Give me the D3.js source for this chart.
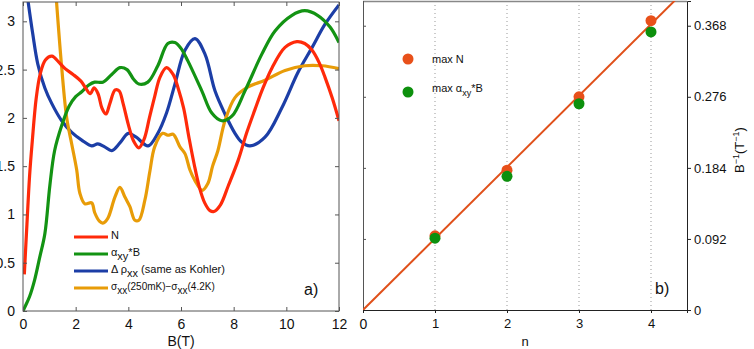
<!DOCTYPE html>
<html>
<head>
<meta charset="utf-8">
<script src="https://cdn.jsdelivr.net/npm/d3@7"></script>
<style>
body { margin: 0; background: #fff; }
svg { font-family: "Liberation Sans", Arial, sans-serif; }
</style>
</head>
<body>
<svg id="chart" width="754" height="349"></svg>
<script>
// ---- data: panel a) B(T) vs signal ----
const seriesN = [[0.05,0.38],[0.15,0.9],[0.25,1.4],[0.35,1.75],[0.5,2.2],[0.65,2.45],[0.85,2.6],[1.1,2.64],[1.35,2.58],[1.6,2.51],[1.9,2.45],[2.2,2.38],[2.4,2.3],[2.55,2.25],[2.7,2.31],[2.85,2.25],[3.0,2.1],[3.15,2.04],[3.3,2.15],[3.5,2.29],[3.65,2.28],[3.8,2.15],[4.0,1.93],[4.2,1.76],[4.4,1.69],[4.6,1.78],[4.8,2.0],[5.0,2.22],[5.2,2.42],[5.45,2.52],[5.7,2.45],[5.9,2.3],[6.1,2.1],[6.3,1.8],[6.5,1.52],[6.7,1.28],[6.9,1.12],[7.1,1.04],[7.25,1.03],[7.5,1.1],[7.8,1.3],[8.17,1.56],[8.5,1.85],[8.8,2.08],[9.1,2.3],[9.46,2.52],[9.95,2.73],[10.4,2.79],[10.7,2.77],[10.98,2.7],[11.25,2.57],[11.47,2.42],[11.75,2.2],[12.0,1.97]];
const seriesAlpha = [[0.0,0.0],[0.07,0.04],[0.25,0.15],[0.44,0.32],[0.63,0.55],[0.83,0.8],[1.02,1.3],[1.2,1.66],[1.47,1.92],[1.75,2.12],[2.0,2.22],[2.23,2.27],[2.5,2.34],[2.72,2.37],[3.03,2.37],[3.37,2.45],[3.68,2.52],[3.95,2.5],[4.2,2.4],[4.4,2.35],[4.74,2.37],[5.12,2.54],[5.5,2.77],[5.77,2.78],[6.0,2.72],[6.26,2.59],[6.79,2.28],[7.17,2.05],[7.55,1.97],[7.94,2.02],[8.43,2.28],[9.07,2.66],[9.57,2.9],[10.2,3.06],[10.7,3.11],[11.2,3.06],[11.66,2.94],[12.0,2.78]];
const seriesRho = [[0.12,3.35],[0.37,2.87],[0.56,2.56],[0.83,2.31],[1.09,2.15],[1.47,1.97],[1.85,1.85],[2.23,1.77],[2.61,1.71],[2.84,1.73],[3.1,1.7],[3.37,1.66],[3.68,1.74],[4.0,1.84],[4.3,1.8],[4.75,1.71],[5.12,1.84],[5.45,2.05],[5.77,2.35],[6.15,2.7],[6.53,2.82],[6.91,2.66],[7.29,2.28],[7.67,2.04],[8.05,1.84],[8.3,1.75],[8.62,1.71],[9.19,1.8],[9.84,2.11],[10.44,2.47],[10.98,2.73],[11.47,2.97],[12.0,3.17]];
const seriesSigma = [[1.22,3.4],[1.47,2.52],[1.66,2.0],[1.85,1.73],[2.04,1.46],[2.16,1.22],[2.35,1.11],[2.61,1.12],[2.72,1.02],[2.9,0.93],[3.03,0.91],[3.22,0.96],[3.49,1.18],[3.68,1.28],[3.87,1.18],[4.06,1.08],[4.25,0.94],[4.4,0.94],[4.63,1.15],[4.82,1.45],[5.0,1.7],[5.3,1.84],[5.5,1.82],[5.7,1.83],[5.96,1.7],[6.15,1.63],[6.34,1.46],[6.53,1.35],[6.8,1.25],[7.02,1.32],[7.2,1.5],[7.4,1.66],[7.67,1.97],[8.05,2.21],[8.55,2.32],[9.19,2.39],[9.95,2.49],[10.7,2.54],[11.36,2.54],[12.0,2.51]];
const xTicksA = [0, 2, 4, 6, 8, 10, 12];
const yTicksA = [0, 0.5, 1, 1.5, 2, 2.5, 3];

// ---- data: panel b) n vs inverse field ----
const nValues = [1, 2, 3, 4];
const maxN = [0.096, 0.181, 0.276, 0.3745];
const maxAlpha = [0.093, 0.173, 0.267, 0.360];
const fitSlope = 0.0925;
const xTicksB = [0, 1, 2, 3, 4];
const yTicksB = [0, 0.092, 0.184, 0.276, 0.368];

const colors = { N: "#ff2a0a", alpha: "#139313", rho: "#1c3ea6", sigma: "#e89c08" };
const dotRed = "#e8501a", dotGreen = "#0d900d";

const svg = d3.select("#chart");

// writes [text, isSub] pieces into a text node
function richText(t, parts, subSize) {
  let shifted = false;
  parts.forEach(p => {
    const ts = t.append("tspan").text(p[0]);
    if (p[1] && !shifted) { ts.attr("dy", 4).attr("font-size", subSize); shifted = true; }
    else if (p[1]) { ts.attr("font-size", subSize); }
    else if (!p[1] && shifted) { ts.attr("dy", -4); shifted = false; }
  });
}

// ================= panel a =================
const A = { left: 23, right: 339, top: 2, bottom: 311 };
const xA = d3.scaleLinear().domain([0, 12]).range([A.left, A.right]);
const yA = d3.scaleLinear().domain([0, 3.2]).range([A.bottom, A.top]);

svg.append("clipPath").attr("id", "clipA")
  .append("rect").attr("x", A.left).attr("y", A.top)
  .attr("width", A.right - A.left).attr("height", A.bottom - A.top);

const gA = svg.append("g");

const lineA = d3.line().x(d => xA(d[0])).y(d => yA(d[1])).curve(d3.curveCatmullRom.alpha(0.5));

const curves = [
  { data: seriesRho, color: colors.rho },
  { data: seriesSigma, color: colors.sigma },
  { data: seriesAlpha, color: colors.alpha },
  { data: seriesN, color: colors.N }
];
gA.append("g").attr("clip-path", "url(#clipA)")
  .selectAll("path").data(curves).join("path")
  .attr("d", d => lineA(d.data))
  .attr("fill", "none")
  .attr("stroke", d => d.color)
  .attr("stroke-width", 3.2)
  .attr("stroke-linejoin", "round");

// frame + ticks (matlab style, inward)
gA.append("rect").attr("x", A.left).attr("y", A.top)
  .attr("width", A.right - A.left).attr("height", A.bottom - A.top)
  .attr("fill", "none").attr("stroke", "#555").attr("stroke-width", 1);

const axB = gA.append("g").attr("transform", `translate(0,${A.bottom})`)
  .call(d3.axisBottom(xA).tickValues(xTicksA).tickSize(-4).tickPadding(8).tickFormat(d3.format("d")));
const axT = gA.append("g").attr("transform", `translate(0,${A.top})`)
  .call(d3.axisTop(xA).tickValues(xTicksA).tickSize(-4).tickFormat(""));
const axL = gA.append("g").attr("transform", `translate(${A.left},0)`)
  .call(d3.axisLeft(yA).tickValues(yTicksA).tickSize(-4).tickPadding(8).tickFormat(d => d === 0 ? "0" : d3.format("")(d)));
const axR = gA.append("g").attr("transform", `translate(${A.right},0)`)
  .call(d3.axisRight(yA).tickValues(yTicksA).tickSize(-4).tickFormat(""));
[axB, axT, axL, axR].forEach(a => {
  a.select(".domain").remove();
  a.selectAll(".tick line").attr("stroke", "#555");
  a.selectAll("text").attr("font-size", 14).attr("fill", "#111").attr("font-family", "Liberation Sans, Arial, sans-serif");
});

gA.append("text").attr("x", xA(6)).attr("y", 346).attr("text-anchor", "middle")
  .attr("font-size", 14).attr("fill", "#111").text("B(T)");
gA.append("text").attr("x", 304).attr("y", 295)
  .attr("font-size", 16).attr("fill", "#111").text("a)");

// legend
const legA = gA.append("g").attr("font-size", 11).attr("fill", "#111");
const legRows = [
  { color: colors.N, y: 237, parts: [["N", 0]] },
  { color: colors.alpha, y: 254, parts: [["α", 0], ["xy", 1], ["*B", 0]] },
  { color: colors.rho, y: 271, parts: [["Δ ρ", 0], ["xx", 1], [" (same as Kohler)", 0]] },
  { color: colors.sigma, y: 288, parts: [["σ", 0], ["xx", 1], ["(250mK)−σ", 0], ["xx", 1], ["(4.2K)", 0]], size: 10 }
];
legRows.forEach(r => {
  legA.append("line").attr("x1", 74).attr("x2", 108).attr("y1", r.y).attr("y2", r.y)
    .attr("stroke", r.color).attr("stroke-width", 3);
  const t = legA.append("text").attr("x", 111).attr("y", r.y + 2);
  if (r.size) t.attr("font-size", r.size);
  richText(t, r.parts, r.size || 11);
});

// ================= panel b =================
const Bp = { left: 363, right: 687, top: 1, bottom: 310 };
const xB = d3.scaleLinear().domain([0, 4.5]).range([Bp.left, Bp.right]);
const yB = d3.scaleLinear().domain([0, 0.4]).range([Bp.bottom, Bp.top]);

svg.append("clipPath").attr("id", "clipB")
  .append("rect").attr("x", Bp.left).attr("y", Bp.top)
  .attr("width", Bp.right - Bp.left).attr("height", Bp.bottom - Bp.top);

const gB = svg.append("g");

// dotted grid
gB.selectAll("line.grid").data(nValues).join("line").attr("class", "grid")
  .attr("x1", d => xB(d)).attr("x2", d => xB(d))
  .attr("y1", Bp.top).attr("y2", Bp.bottom)
  .attr("stroke", "#999").attr("stroke-width", 1).attr("stroke-dasharray", "1,3");

// top and left borders
gB.append("line").attr("x1", Bp.left).attr("x2", Bp.right).attr("y1", Bp.top + 0.5).attr("y2", Bp.top + 0.5)
  .attr("stroke", "#888").attr("stroke-width", 1.5);
gB.append("line").attr("x1", Bp.left + 0.5).attr("x2", Bp.left + 0.5).attr("y1", Bp.top).attr("y2", Bp.bottom)
  .attr("stroke", "#555").attr("stroke-width", 1);
gB.append("g").attr("transform", `translate(${Bp.left},0)`)
  .call(d3.axisRight(yB).tickValues(yTicksB.slice(1)).tickSize(3).tickFormat(""))
  .call(a => a.select(".domain").remove())
  .selectAll(".tick line").attr("stroke", "#555");

// fit line
gB.append("line").attr("clip-path", "url(#clipB)")
  .attr("x1", xB(0)).attr("y1", yB(0))
  .attr("x2", xB(4.5)).attr("y2", yB(fitSlope * 4.5))
  .attr("stroke", "#e0501a").attr("stroke-width", 2);

// points
gB.selectAll("circle.n").data(nValues).join("circle").attr("class", "n")
  .attr("cx", d => xB(d)).attr("cy", (d, i) => yB(maxN[i])).attr("r", 5.5).attr("fill", dotRed);
gB.selectAll("circle.a").data(nValues).join("circle").attr("class", "a")
  .attr("cx", d => xB(d)).attr("cy", (d, i) => yB(maxAlpha[i])).attr("r", 5.5).attr("fill", dotGreen);

// axes
const axBB = gB.append("g").attr("transform", `translate(0,${Bp.bottom})`)
  .call(d3.axisBottom(xB).tickValues(xTicksB).tickSize(3).tickPadding(6).tickFormat(d3.format("d")));
const axBR = gB.append("g").attr("transform", `translate(${Bp.right},0)`)
  .call(d3.axisRight(yB).tickValues(yTicksB).tickSize(4).tickPadding(3).tickFormat(d => d === 0 ? "0" : d3.format(".3f")(d)));
[axBB, axBR].forEach(a => {
  a.select(".domain").attr("stroke", "#222");
  a.selectAll(".tick line").attr("stroke", "#222");
  a.selectAll("text").attr("font-size", 13).attr("fill", "#111").attr("font-family", "Liberation Sans, Arial, sans-serif");
});
axBB.select(".tick text").attr("font-size", 14);

gB.append("text").attr("x", xB(2.25)).attr("y", 346).attr("text-anchor", "middle")
  .attr("font-size", 13).attr("fill", "#111").text("n");
const yl = gB.append("text").attr("transform", "translate(744,150) rotate(-90)")
  .attr("text-anchor", "middle").attr("font-size", 13).attr("fill", "#111");
yl.append("tspan").text("B");
yl.append("tspan").attr("dy", -5).attr("font-size", 9).text("−1");
yl.append("tspan").attr("dy", 5).text("(T");
yl.append("tspan").attr("dy", -5).attr("font-size", 9).text("−1");
yl.append("tspan").attr("dy", 5).text(")");

gB.append("text").attr("x", 655).attr("y", 294).attr("font-size", 16).attr("fill", "#111").text("b)");

// legend b
const legB = gB.append("g").attr("font-size", 11).attr("fill", "#111");
legB.append("circle").attr("cx", 408).attr("cy", 59).attr("r", 5.5).attr("fill", dotRed);
legB.append("text").attr("x", 432).attr("y", 63).text("max N");
legB.append("circle").attr("cx", 408).attr("cy", 92).attr("r", 5.5).attr("fill", dotGreen);
richText(legB.append("text").attr("x", 432).attr("y", 92), [["max α", 0], ["xy", 1], ["*B", 0]], 9);
</script>
</body>
</html>
